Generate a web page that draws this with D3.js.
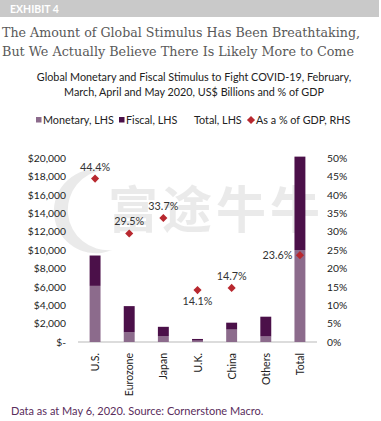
<!DOCTYPE html>
<html><head><meta charset="utf-8">
<script src="https://cdn.jsdelivr.net/npm/d3@7"></script>
<style>body{margin:0;background:#fff}svg{display:block}</style>
</head><body>
<script>
const categories = ["U.S.", "Eurozone", "Japan", "U.K.", "China", "Others", "Total"];
const monetary = [6100, 1050, 650, 150, 1350, 600, 10000];
const fiscal = [3300, 2850, 1000, 180, 750, 2150, 10150];
const pctGDP = [44.4, 29.5, 33.7, 14.1, 14.7, null, 23.6];
const leftTicks = [0, 2000, 4000, 6000, 8000, 10000, 12000, 14000, 16000, 18000, 20000];
const rightTicks = [0, 5, 10, 15, 20, 25, 30, 35, 40, 45, 50];

const W = 381, H = 421;
const C = {mon: "#8c6b8c", fis: "#4b1049", red: "#b8282f", text: "#222"};
const FONT = "Lato, 'Open Sans', sans-serif";

const svg = d3.select("body").append("svg").attr("width", W).attr("height", H)
  .style("font-family", FONT);

// header
svg.append("rect").attr("x", 0).attr("y", 0).attr("width", 379).attr("height", 17).attr("fill", "#c9c9c9");
svg.append("text").attr("x", 10).attr("y", 13).text("EXHIBIT 4")
  .attr("fill", "#fff").attr("font-weight", "bold").attr("font-size", 10.5);

// title
const titleLines = ["The Amount of Global Stimulus Has Been Breathtaking,", "But We Actually Believe There Is Likely More to Come"];
const titleLens = [358, 352];
svg.selectAll("text.title").data(titleLines).join("text").attr("class", "title")
  .attr("x", 2).attr("y", (d, i) => 37 + i * 19)
  .attr("textLength", (d, i) => titleLens[i]).attr("lengthAdjust", "spacingAndGlyphs")
  .attr("font-family", "'DejaVu Serif', serif").attr("font-size", 12.2)
  .attr("fill", "#595959").text(d => d);

// subtitle
const subLines = ["Global Monetary and Fiscal Stimulus to Fight COVID-19, February,", "March, April and May 2020, US$ Billions and % of GDP"];
svg.selectAll("text.sub").data(subLines).join("text").attr("class", "sub")
  .attr("x", 194).attr("y", (d, i) => 81 + i * 15).attr("text-anchor", "middle")
  .attr("font-size", 10.8).attr("fill", C.text).text(d => d);

// watermark
const wm = svg.append("g").attr("opacity", 0.08);
wm.append("path").attr("d", "M104,170 A42,42 0 1,0 112,250 A36,36 0 1,1 104,170 Z").attr("fill", "#000");
wm.append("text").attr("x", 108).attr("y", 228).attr("font-family", "'Noto Sans CJK SC'")
  .attr("font-size", 50).attr("font-weight", "bold").attr("letter-spacing", 4).attr("fill", "#000").text("富途牛牛");

// scales
const x = d3.scaleBand().domain(categories).range([78, 317]).paddingInner(0.68).paddingOuter(0.34);
const y = d3.scaleLinear().domain([0, 20000]).range([342, 158]);
const y2 = d3.scaleLinear().domain([0, 50]).range([342, 158]);

// axes
const fmtL = v => v === 0 ? "$-" : "$" + d3.format(",")(v);
const gl = svg.append("g").attr("transform", "translate(66,0)")
  .call(d3.axisLeft(y).tickValues(leftTicks).tickFormat(fmtL).tickSize(0).tickPadding(0));
gl.select(".domain").remove();
gl.selectAll("text").attr("font-family", FONT).attr("font-size", 10.3).attr("fill", C.text);

const gr = svg.append("g").attr("transform", "translate(327,0)")
  .call(d3.axisRight(y2).tickValues(rightTicks).tickFormat(v => v + "%").tickSize(0).tickPadding(0));
gr.select(".domain").remove();
gr.selectAll("text").attr("font-family", FONT).attr("font-size", 10.3).attr("fill", C.text);

// baseline
svg.append("line").attr("x1", 78).attr("x2", 317).attr("y1", y(0)).attr("y2", y(0))
  .attr("stroke", "#d0d0d0").attr("stroke-width", 1.5);

// bars
const rows = categories.map((c, i) => ({c, m: monetary[i], f: fiscal[i], p: pctGDP[i]}));
svg.append("g").selectAll("rect").data(rows).join("rect")
  .attr("x", d => x(d.c)).attr("width", x.bandwidth())
  .attr("y", d => y(d.m)).attr("height", d => y(0) - y(d.m)).attr("fill", C.mon);
svg.append("g").selectAll("rect").data(rows).join("rect")
  .attr("x", d => x(d.c)).attr("width", x.bandwidth())
  .attr("y", d => y(d.m + d.f)).attr("height", d => y(d.m) - y(d.m + d.f)).attr("fill", C.fis);

// x labels
const gx = svg.append("g").attr("transform", `translate(0,${y(0)})`)
  .call(d3.axisBottom(x).tickSize(0).tickPadding(0));
gx.select(".domain").remove();
gx.selectAll("text").attr("font-family", FONT).attr("font-size", 10.5).attr("fill", C.text)
  .attr("text-anchor", "end").attr("dy", null)
  .attr("transform", "translate(4,11) rotate(-90)");

// markers
const pts = rows.filter(d => d.p != null);
const diamond = d3.symbol().type(d3.symbolDiamond2).size(42);
svg.append("g").selectAll("path").data(pts).join("path")
  .attr("transform", d => `translate(${x(d.c) + x.bandwidth() / 2},${y2(d.p)})`)
  .attr("d", diamond).attr("fill", C.red);

svg.append("g").selectAll("text").data(pts).join("text")
  .attr("x", d => d.c === "Total" ? x(d.c) - 2 : x(d.c) + x.bandwidth() / 2)
  .attr("y", d => d.c === "U.K." ? y2(d.p) + 15 : d.c === "Total" ? y2(d.p) + 4 : y2(d.p) - 8)
  .attr("text-anchor", d => d.c === "Total" ? "end" : "middle")
  .attr("font-size", 10.8).attr("fill", "#333").text(d => d.p.toFixed(1) + "%");

// legend
const lg = svg.append("g").attr("font-size", 10.8).attr("fill", C.text);
lg.append("rect").attr("x", 36).attr("y", 117).attr("width", 5.5).attr("height", 5.5).attr("fill", C.mon);
lg.append("text").attr("x", 43).attr("y", 124).text("Monetary, LHS");
lg.append("rect").attr("x", 119).attr("y", 117).attr("width", 5.5).attr("height", 5.5).attr("fill", C.fis);
lg.append("text").attr("x", 126).attr("y", 124).text("Fiscal, LHS");
lg.append("text").attr("x", 194).attr("y", 124).text("Total, LHS");
lg.append("path").attr("transform", "translate(251,120)").attr("d", diamond).attr("fill", C.red);
lg.append("text").attr("x", 256).attr("y", 124).text("As a % of GDP, RHS");

// footnote
svg.append("text").attr("x", 11).attr("y", 415).attr("font-size", 11).attr("fill", "#5a2d5c")
  .text("Data as at May 6, 2020. Source: Cornerstone Macro.");
</script>
</body></html>
